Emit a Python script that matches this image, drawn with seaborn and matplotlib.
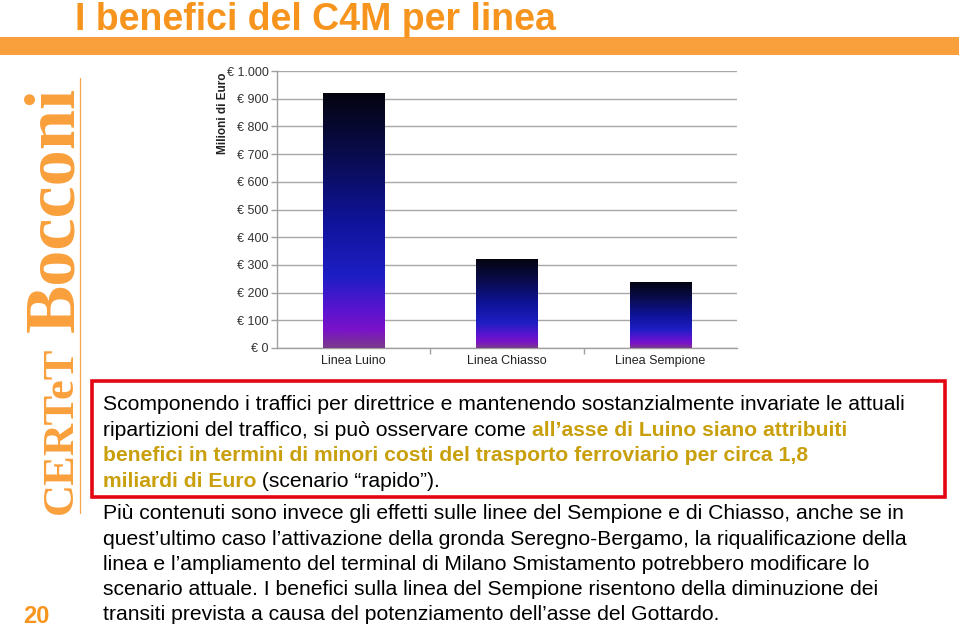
import numpy as np
import pandas as pd
import matplotlib
matplotlib.use("Agg")
import matplotlib.pyplot as plt
import seaborn as sns
from matplotlib.colors import LinearSegmentedColormap
from matplotlib.patches import Rectangle
from matplotlib.lines import Line2D

# ---------------- data ----------------
categories = ["Linea Luino", "Linea Chiasso", "Linea Sempione"]
values = [920, 321, 238]
ytick_values = [0, 100, 200, 300, 400, 500, 600, 700, 800, 900, 1000]
ytick_labels = ["€ 0", "€ 100", "€ 200", "€ 300", "€ 400", "€ 500",
                "€ 600", "€ 700", "€ 800", "€ 900", "€ 1.000"]
title = "I benefici del C4M per linea"
ylabel = "Milioni di Euro"
side_brand = ["CERTeT", "Bocconi"]
page_number = "20"

# paragraph 1: list of lines, each a list of (text, highlighted)
para1 = [
    [("Scomponendo i traffici per direttrice e mantenendo sostanzialmente invariate le attuali", False)],
    [("ripartizioni del traffico, si può osservare come ", False),
     ("all’asse di Luino siano attribuiti", True)],
    [("benefici in termini di minori costi del trasporto ferroviario per circa 1,8", True)],
    [("miliardi di Euro", True), (" (scenario “rapido”).", False)],
]
para2 = [
    "Più contenuti sono invece gli effetti sulle linee del Sempione e di Chiasso, anche se in",
    "quest’ultimo caso l’attivazione della gronda Seregno-Bergamo, la riqualificazione della",
    "linea e l’ampliamento del terminal di Milano Smistamento potrebbero modificare lo",
    "scenario attuale. I benefici sulla linea del Sempione risentono della diminuzione dei",
    "transiti prevista a causa del potenziamento dell’asse del Gottardo.",
]

# ---------------- style ----------------
sns.set_theme(style="white")
plt.rcParams['font.family'] = ['Liberation Sans', 'DejaVu Sans']

W, H = 959, 630
fig = plt.figure(figsize=(W / 100, H / 100), dpi=100)
fig.patch.set_facecolor("white")


def fx(px):
    return px / W


def fy(py):
    return 1 - py / H


ORANGE = "#F7941E"
BAND = "#F9A03C"
GOLD = "#C9A00C"

# ---------------- chart ----------------
ax = fig.add_axes([fx(277), fy(348), 460 / W, 277 / H])
df = pd.DataFrame({"cat": categories, "val": values})
sns.barplot(data=df, x="cat", y="val", ax=ax, width=0.4, color="#10109a",
            saturation=1, zorder=3)

cmap = LinearSegmentedColormap.from_list("bargrad", [
    (0.00, "#7a3a8c"),
    (0.07, "#7a12c8"),
    (0.15, "#5a14d0"),
    (0.28, "#1e1ec4"),
    (0.50, "#0f1398"),
    (0.75, "#0a0c50"),
    (1.00, "#04040f"),
])
grad = np.linspace(0, 1, 256).reshape(-1, 1)
for p in list(ax.patches):
    x0, y0, w, h = p.get_x(), p.get_y(), p.get_width(), p.get_height()
    im = ax.imshow(grad, extent=[x0, x0 + w, y0, y0 + h], origin="lower",
                   aspect="auto", cmap=cmap, zorder=3.5, interpolation="bilinear")
    im.set_clip_path(p)
    p.set_facecolor("none")
    p.set_edgecolor("none")

ax.set_xlim(-0.5, 2.5)
ax.set_ylim(0, 1000)
ax.set_aspect("auto")
ax.set_xlabel("")
ax.set_ylabel("")
ax.set_axisbelow(True)
ax.yaxis.grid(True, color="#A8A8A8", lw=1.0)
ax.xaxis.grid(False)
for s in ["top", "right"]:
    ax.spines[s].set_visible(False)
for s in ["left", "bottom"]:
    ax.spines[s].set_color("#A0A0A0")
    ax.spines[s].set_linewidth(1.0)

ax.set_yticks(ytick_values)
ax.set_yticklabels(ytick_labels)
ax.tick_params(axis="y", left=True, length=4, width=1, color="#A0A0A0",
               labelsize=9, labelcolor="#333333", pad=2)
ax.set_xticks(range(len(categories)))
ax.set_xticklabels(categories)
ax.tick_params(axis="x", which="major", bottom=False, length=0,
               labelsize=9, labelcolor="#222222", pad=5)
ax.set_xticks([0.5, 1.5], minor=True)
ax.tick_params(axis="x", which="minor", bottom=True, length=4, width=1,
               color="#A0A0A0")

fig.text(fx(223), fy(113), ylabel, rotation=90, fontsize=8.5,
         fontweight="bold", ha="center", va="center", color="#222222")

# ---------------- slide decorations ----------------
fig.text(fx(75), fy(30), title, fontsize=27, fontweight="bold",
         color=ORANGE, ha="left", va="baseline")
fig.patches.append(Rectangle((0, fy(55)), 1, 18 / H, transform=fig.transFigure,
                             facecolor=BAND, edgecolor="none"))
fig.lines.append(Line2D([fx(80), fx(80)], [fy(78), fy(513)],
                        transform=fig.transFigure, color="#F4A64E", lw=0.9))
fig.text(fx(73), fy(210), side_brand[1], rotation=90, rotation_mode="anchor",
         ha="center", va="baseline", fontsize=52, fontweight="bold",
         family=["Liberation Serif", "DejaVu Serif"], color=BAND)
fig.text(fx(72), fy(430), side_brand[0], rotation=90, rotation_mode="anchor",
         ha="center", va="baseline", fontsize=32, fontweight="bold",
         family=["Liberation Serif", "DejaVu Serif"], color=BAND)
fig.text(fx(36), fy(623), page_number, fontsize=17, fontweight="bold",
         color=ORANGE, ha="center", va="baseline")

# red box
fig.patches.append(Rectangle((fx(92), fy(497)), (945 - 92) / W, (497 - 381) / H,
                             transform=fig.transFigure, facecolor="none",
                             edgecolor="#E30613", lw=2.6))

# ---------------- body text (fit width) ----------------
renderer = fig.canvas.get_renderer()
probe = fig.text(0, 0, para1[0][0][0], fontsize=14)
wpx = probe.get_window_extent(renderer).width
probe.remove()
body_fs = 14 * 809 / wpx

x_start = 103
base1 = [410, 436, 461, 487]
for line, by in zip(para1, base1):
    xcur = x_start
    for txt, hl in line:
        t = fig.text(fx(xcur), fy(by), txt, fontsize=body_fs,
                     fontweight="bold" if hl else "normal",
                     color=GOLD if hl else "black", ha="left", va="baseline")
        bb = t.get_window_extent(renderer)
        xcur += bb.width

base2 = [519, 545, 570, 595, 620]
for line, by in zip(para2, base2):
    fig.text(fx(x_start), fy(by), line, fontsize=body_fs, color="black",
             ha="left", va="baseline")

fig.savefig("out.png", dpi=100, facecolor="white")
